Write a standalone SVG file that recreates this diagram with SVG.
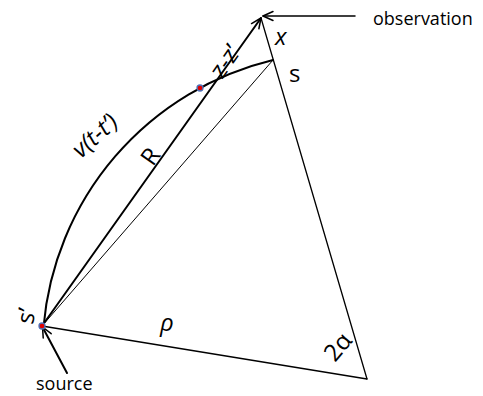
<svg xmlns="http://www.w3.org/2000/svg" width="483" height="396" viewBox="0 0 483 396">
<style>
.ln{stroke:#000;fill:none;stroke-linecap:round}
.lbl{font-family:"Open Sans","Liberation Sans",sans-serif;fill:#000}
.math{font-family:"Open Sans","Liberation Sans",sans-serif;font-size:24px;fill:#000}
.it{font-style:italic}
.dot{fill:#e00000;stroke:#4f72b8;stroke-width:1.3}
</style>
<defs>
<marker id="open" markerUnits="userSpaceOnUse" markerWidth="14" markerHeight="14" viewBox="-12 -7 14 14" refX="0" refY="0" orient="auto">
<path d="M -10 -4.5 L 0 0 L -10 4.5" fill="none" stroke="#000" stroke-width="1.5" stroke-linecap="round" stroke-linejoin="round"/>
</marker>
</defs>
<rect width="483" height="396" fill="#fff"/>
<g id="connectors">
<path id="arc" class="ln" stroke-width="2" d="M 43.5 327 A 301 301 0 0 1 273 60"/>
<line id="R-line" class="ln" stroke-width="2" x1="42" y1="326" x2="261" y2="18" marker-end="url(#open)"/>
<line id="s-line" class="ln" stroke-width="1" x1="42" y1="326" x2="273" y2="60"/>
<line id="rho-line" class="ln" stroke-width="1.3" x1="42" y1="326" x2="367" y2="379"/>
<line id="right-line" class="ln" stroke-width="1.3" x1="261" y1="18" x2="367" y2="379"/>
<line id="obs-arrow" class="ln" stroke-width="1.5" x1="355" y1="16" x2="263" y2="16" marker-end="url(#open)"/>
<line id="src-arrow" class="ln" stroke-width="2" x1="67" y1="373" x2="42.5" y2="327" marker-end="url(#open)"/>
</g>
<g id="source-point"><circle class="dot" cx="42" cy="326" r="3"/></g>
<g id="arc-point"><circle class="dot" cx="200" cy="88" r="3"/></g>
<g id="labels">
<text class="lbl" x="373" y="25" font-size="18">observation</text>
<text class="lbl" x="36" y="390" font-size="18">source</text>
<text class="math it" x="275" y="45">x</text>
<text class="math" x="289" y="82" font-size="22">s</text>
<text class="math it" x="160" y="331">ρ</text>
<text class="math" transform="translate(150,156) rotate(-55)" x="0" y="9" text-anchor="middle">R</text>
<text class="math" transform="translate(226,62) rotate(-55)" x="0" y="7" text-anchor="middle">z-z’</text>
<text class="math it" transform="translate(81,159) rotate(-42)" x="0" y="0" font-size="25">v(t-t’)</text>
<text class="math" transform="translate(338,347) rotate(-50)" x="0" y="8" text-anchor="middle">2α</text>
<text class="math" transform="translate(33,325) rotate(-80)" x="0" y="0">s’</text>
</g>
</svg>
